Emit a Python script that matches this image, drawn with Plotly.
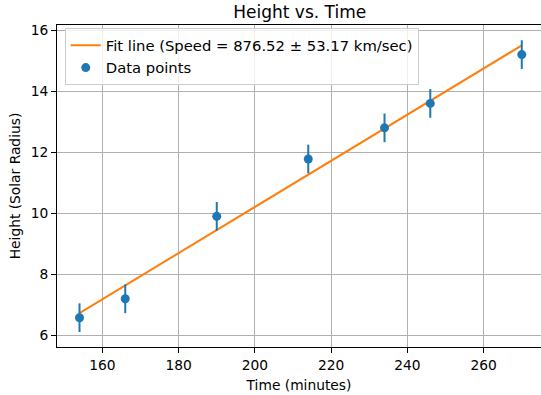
import numpy as np
import plotly.graph_objects as go

time_min = [154, 166, 190, 214, 234, 246, 270]
height_rsun = [6.58, 7.2, 9.9, 11.78, 12.8, 13.6, 15.2]
height_err = [0.47, 0.47, 0.47, 0.47, 0.47, 0.47, 0.47]
fit_label = "Fit line (Speed = 876.52 ± 53.17 km/sec)"

slope, intercept = np.polyfit(time_min, height_rsun, 1)
fit_x = [time_min[0], time_min[-1]]
fit_y = [slope * x + intercept for x in fit_x]

FONT = "DejaVu Sans"
fig = go.Figure()
fig.add_trace(go.Scatter(
    x=fit_x, y=fit_y, mode="lines", name=fit_label,
    line=dict(color="#ff7f0e", width=2),
))
fig.add_trace(go.Scatter(
    x=time_min, y=height_rsun, mode="markers", name="Data points",
    marker=dict(color="#1f77b4", size=9),
    error_y=dict(type="data", array=height_err, color="#1f77b4", thickness=2, width=0),
))

fig.update_layout(
    width=541, height=395,
    margin=dict(l=57, r=0, t=25, b=48, autoexpand=False),
    paper_bgcolor="white", plot_bgcolor="white",
    font=dict(family=FONT, size=14, color="black"),
    title=dict(text="Height vs. Time", x=0.5015, xanchor="center", xref="paper",
               y=1 - 18 / 395, yanchor="bottom", yref="container",
               font=dict(size=17, family=FONT)),
    showlegend=True,
    legend=dict(x=0.016, y=0.99, xanchor="left", yanchor="top",
                bgcolor="rgba(255,255,255,0.8)", bordercolor="#cccccc", borderwidth=1,
                font=dict(size=14.8, family=FONT), tracegroupgap=0,
                itemwidth=30),
    xaxis=dict(range=[148.1, 275.04], tickvals=[160, 180, 200, 220, 240, 260],
               showgrid=True, gridcolor="#b0b0b0", gridwidth=1,
               showline=True, linecolor="black", linewidth=1, mirror=True,
               ticks="outside", ticklen=5, tickcolor="black", zeroline=False,
               tickfont=dict(size=13.8), automargin=False,
               title=dict(text="Time (minutes)", font=dict(size=13.8), standoff=8)),
    yaxis=dict(range=[5.62, 16.17], tickvals=[6, 8, 10, 12, 14, 16],
               showgrid=True, gridcolor="#b0b0b0", gridwidth=1,
               showline=True, linecolor="black", linewidth=1,
               ticks="outside", ticklen=5, tickcolor="black", zeroline=False,
               tickfont=dict(size=13.8), automargin=False,
               title=dict(text="Height (Solar Radius)", font=dict(size=13.8), standoff=6)),
)

fig.write_html("out.html", config={"displayModeBar": False},
               post_script="document.body.style.margin='0';document.body.style.overflow='hidden';")
